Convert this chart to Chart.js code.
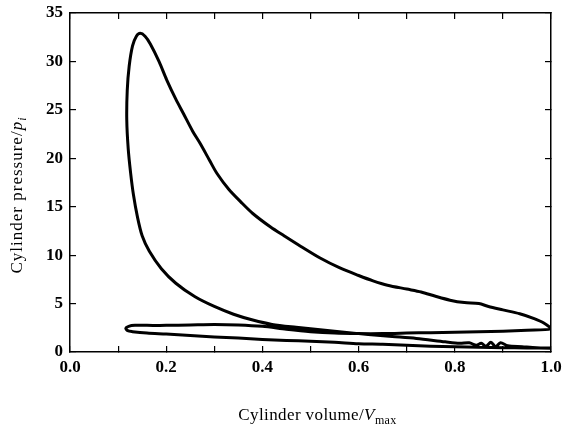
<!DOCTYPE html>
<html>
<head>
<meta charset="utf-8">
<title>Cylinder pressure vs volume</title>
<script src="https://cdn.jsdelivr.net/npm/chart.js@4/dist/chart.umd.min.js"></script>
<style>
  html, body { margin: 0; padding: 0; background: #fff; }
  canvas { display: block; }
</style>
</head>
<body>
<canvas id="pv" width="565" height="432"></canvas>
<script>
// values (volume / Vmax, pressure / p_i)
const compressionV = [1.0, 0.97, 0.94, 0.91, 0.895, 0.885, 0.875, 0.865, 0.855, 0.845, 0.83, 0.81, 0.78, 0.72, 0.67, 0.62, 0.57, 0.52, 0.47, 0.42, 0.38, 0.34, 0.30, 0.26, 0.22, 0.19, 0.165, 0.15, 0.14, 0.132, 0.126, 0.121, 0.118, 0.119, 0.123, 0.13, 0.138];
const compressionP = [0.4, 0.45, 0.55, 0.65, 0.95, 0.55, 1.0, 0.6, 0.9, 0.7, 0.95, 0.9, 1.05, 1.4, 1.6, 1.8, 2.05, 2.3, 2.55, 2.85, 3.3, 3.9, 4.7, 5.7, 7.1, 8.6, 10.4, 12.0, 14.0, 16.2, 18.5, 21.0, 24.0, 27.0, 29.5, 31.6, 32.6];

const expansionV = [0.146, 0.156, 0.167, 0.185, 0.201, 0.22, 0.236, 0.255, 0.271, 0.29, 0.306, 0.33, 0.355, 0.38, 0.417, 0.445, 0.48, 0.52, 0.56, 0.6, 0.63, 0.66, 0.7, 0.73, 0.76, 0.79, 0.82, 0.85, 0.87, 0.9, 0.935, 0.965, 0.985, 1.0];
const expansionP = [32.9, 32.6, 31.8, 30.0, 28.1, 26.1, 24.6, 22.8, 21.5, 19.8, 18.4, 16.8, 15.5, 14.3, 12.9, 12.0, 10.9, 9.7, 8.7, 7.9, 7.35, 6.9, 6.5, 6.2, 5.75, 5.35, 5.1, 5.0, 4.7, 4.35, 3.95, 3.45, 3.0, 2.4];

const exhaustV = [0.95, 0.9, 0.85, 0.8, 0.75, 0.7, 0.65, 0.6, 0.55, 0.5, 0.45, 0.4, 0.35, 0.3, 0.25, 0.2, 0.16, 0.135, 0.122];
const exhaustP = [2.25, 2.15, 2.1, 2.05, 2.0, 1.95, 1.9, 1.9, 1.95, 2.1, 2.35, 2.65, 2.8, 2.85, 2.8, 2.75, 2.75, 2.75, 2.65];

const intakeV = [0.116, 0.12, 0.13, 0.16, 0.2, 0.25, 0.3, 0.35, 0.4, 0.45, 0.5, 0.55, 0.6, 0.65, 0.7, 0.75, 0.8, 0.85, 0.9, 0.95];
const intakeP = [2.45, 2.2, 2.1, 1.95, 1.85, 1.7, 1.55, 1.45, 1.3, 1.2, 1.1, 1.0, 0.85, 0.8, 0.7, 0.6, 0.55, 0.5, 0.45, 0.42];

const xTickStep = 0.1;
const yTickStep = 5;
const xTitle = ['Cylinder volume/', 'V', 'max'];
const yTitle = ['Cylinder pressure/', 'p', 'i'];

function toPoints(vs, ps) {
    return vs.map((v, i) => ({ x: v, y: ps[i] }));
}

// one closed cycle: compression -> expansion -> exhaust -> intake
const cycle = [
    ...toPoints(compressionV, compressionP),
    ...toPoints(expansionV, expansionP),
    ...toPoints(exhaustV, exhaustP),
    ...toPoints(intakeV, intakeP),
    { x: compressionV[0], y: compressionP[0] },
];

const serif = '"Liberation Serif", "Times New Roman", serif';

function drawParts(ctx, parts, x, y, rotate, spacing) {
    ctx.save();
    ctx.letterSpacing = spacing + 'px';
    let total = 0;
    for (let p of parts) {
        ctx.font = p.font;
        total += ctx.measureText(p.text).width;
    }
    ctx.translate(x, y);
    if (rotate) ctx.rotate(-Math.PI / 2);
    ctx.fillStyle = '#000';
    ctx.textAlign = 'left';
    ctx.textBaseline = 'alphabetic';
    let cx = -total / 2;
    for (let p of parts) {
        ctx.font = p.font;
        ctx.fillText(p.text, cx, p.dy || 0);
        cx += ctx.measureText(p.text).width;
    }
    ctx.restore();
}

const axisTitles = {
    id: 'axisTitles',
    afterDraw(chart) {
        const ctx = chart.ctx;
        const area = chart.chartArea;
        drawParts(ctx, [
            { text: xTitle[0], font: '17px ' + serif },
            { text: xTitle[1], font: 'italic 17px ' + serif },
            { text: xTitle[2], font: '12px ' + serif, dy: 4 },
        ], (area.left + area.right) / 2 + 7, 420, false, 0.4);
        drawParts(ctx, [
            { text: yTitle[0], font: '17px ' + serif },
            { text: yTitle[1], font: 'italic 17px ' + serif },
            { text: yTitle[2], font: 'italic 12px ' + serif, dy: 4 },
        ], 22, 195, true, 1);
    }
};

// fixed box sizes so the frame lands where it is in the scan;
// label overhang padding is dropped, there is room for it anyway
function fixBox(w, h) {
    return (scale) => {
        if (w !== null) scale.width = w;
        if (h !== null) scale.height = h;
        scale.paddingTop = 0;
        scale.paddingBottom = 0;
        scale.paddingLeft = 0;
        scale.paddingRight = 0;
    };
}

const frame = { display: true, color: '#000', width: 1.5 };
const inwardTicks = { drawOnChartArea: false, drawTicks: true, tickLength: -6, color: '#000', lineWidth: 1.2 };
const tickFont = { family: serif, size: 17, weight: 'bold' };

new Chart(document.getElementById('pv'), {
    type: 'scatter',
    data: {
        datasets: [{
            data: cycle,
            showLine: true,
            borderColor: '#000',
            borderWidth: 3,
            pointRadius: 0,
            tension: 0.3,
            fill: false,
        }]
    },
    options: {
        responsive: false,
        animation: false,
        layout: { padding: 0 },
        plugins: {
            legend: { display: false },
            tooltip: { enabled: false },
        },
        scales: {
            x: {
                type: 'linear',
                position: 'bottom',
                min: 0,
                max: 1,
                border: frame,
                grid: inwardTicks,
                ticks: {
                    stepSize: xTickStep,
                    autoSkip: false,
                    maxRotation: 0,
                    padding: 11,
                    color: '#000',
                    font: tickFont,
                    callback: (v) => Math.round(v * 10) % 2 === 0 ? v.toFixed(1) : '',
                },
                afterFit: fixBox(null, 80),
            },
            x2: {
                type: 'linear',
                position: 'top',
                min: 0,
                max: 1,
                border: frame,
                grid: inwardTicks,
                ticks: { stepSize: xTickStep, display: false },
                afterFit: fixBox(null, 13),
            },
            y: {
                type: 'linear',
                position: 'left',
                min: 0,
                max: 35,
                border: frame,
                grid: inwardTicks,
                ticks: {
                    stepSize: yTickStep,
                    padding: 13,
                    color: '#000',
                    font: tickFont,
                },
                afterFit: fixBox(70, null),
            },
            y2: {
                type: 'linear',
                position: 'right',
                min: 0,
                max: 35,
                border: frame,
                grid: inwardTicks,
                ticks: { stepSize: yTickStep, display: false },
                afterFit: fixBox(14, null),
            },
        }
    },
    plugins: [axisTitles],
});
</script>
</body>
</html>
